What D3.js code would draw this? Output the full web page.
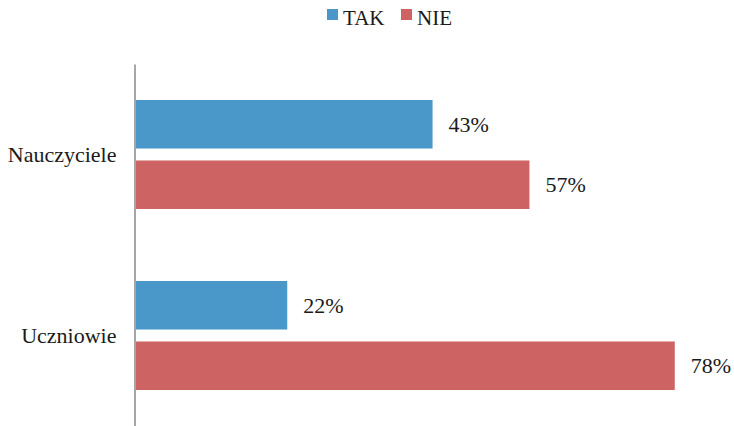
<!DOCTYPE html>
<html>
<head>
<meta charset="utf-8">
<script src="https://cdn.jsdelivr.net/npm/d3@7"></script>
<style>
  body { margin: 0; background: #fff; }
</style>
</head>
<body>
<script>
// data
var categories = ["Nauczyciele", "Uczniowie"];
var series = ["TAK", "NIE"];
var tak = [43, 22];
var nie = [57, 78];
var colors = ["#4A98CA", "#CD6363"];

var fontStack = "'Liberation Serif', 'Times New Roman', Times, 'DejaVu Serif', serif";

var outerWidth = 734,
    outerHeight = 426;

var rows = categories.map(function(c, i) {
    return { cat: c, values: [tak[i], nie[i]] };
});

var svg = d3.select("body")
    .append("svg")
    .attr("width", outerWidth)
    .attr("height", outerHeight);

var x = d3.scaleLinear()
    .domain([0, 100])
    .range([135, 827]);

var y = d3.scaleBand()
    .domain(categories)
    .range([64, 426]);

// bars inside each category band
var ySub = d3.scaleBand()
    .domain(series)
    .range([36, 145])
    .paddingInner(0.198);

var groups = svg.selectAll(".grp")
    .data(rows)
    .enter().append("g")
    .attr("class", "grp")
    .attr("transform", function(d) { return "translate(0," + y(d.cat) + ")"; });

groups.selectAll("rect")
    .data(function(d) { return d.values.map(function(v, j) { return { s: series[j], v: v, j: j }; }); })
    .enter().append("rect")
    .attr("x", x(0))
    .attr("y", function(d) { return ySub(d.s); })
    .attr("width", function(d) { return x(d.v) - x(0); })
    .attr("height", ySub.bandwidth())
    .style("fill", function(d) { return colors[d.j]; });

// value labels
groups.selectAll(".val")
    .data(function(d) { return d.values.map(function(v, j) { return { s: series[j], v: v }; }); })
    .enter().append("text")
    .attr("class", "val")
    .attr("x", function(d) { return x(d.v) + 16; })
    .attr("y", function(d) { return ySub(d.s) + ySub.bandwidth() / 2; })
    .attr("dy", "0.35em")
    .style("font-family", fontStack)
    .style("font-size", "22px")
    .style("fill", "#1a1a1a")
    .text(function(d) { return d.v + "%"; });

// category axis
var yAxis = d3.axisLeft(y).tickSize(0).tickPadding(18);
var ax = svg.append("g")
    .attr("transform", "translate(" + 134.5 + ",0)")
    .call(yAxis);
ax.select(".domain")
    .attr("stroke", "#a6a6a6")
    .attr("stroke-width", 2);
ax.selectAll("text")
    .style("font-family", fontStack)
    .style("font-size", "22px")
    .style("fill", "#1a1a1a");

// legend
var legend = svg.append("g");
var legendX = [327, 401];
series.forEach(function(s, i) {
    legend.append("rect")
        .attr("x", legendX[i])
        .attr("y", 9)
        .attr("width", 11)
        .attr("height", 11)
        .style("fill", colors[i]);
    legend.append("text")
        .attr("x", legendX[i] + 16)
        .attr("y", 25)
        .style("font-family", fontStack)
        .style("font-size", "21px")
        .style("fill", "#1a1a1a")
        .text(s);
});
</script>
</body>
</html>
